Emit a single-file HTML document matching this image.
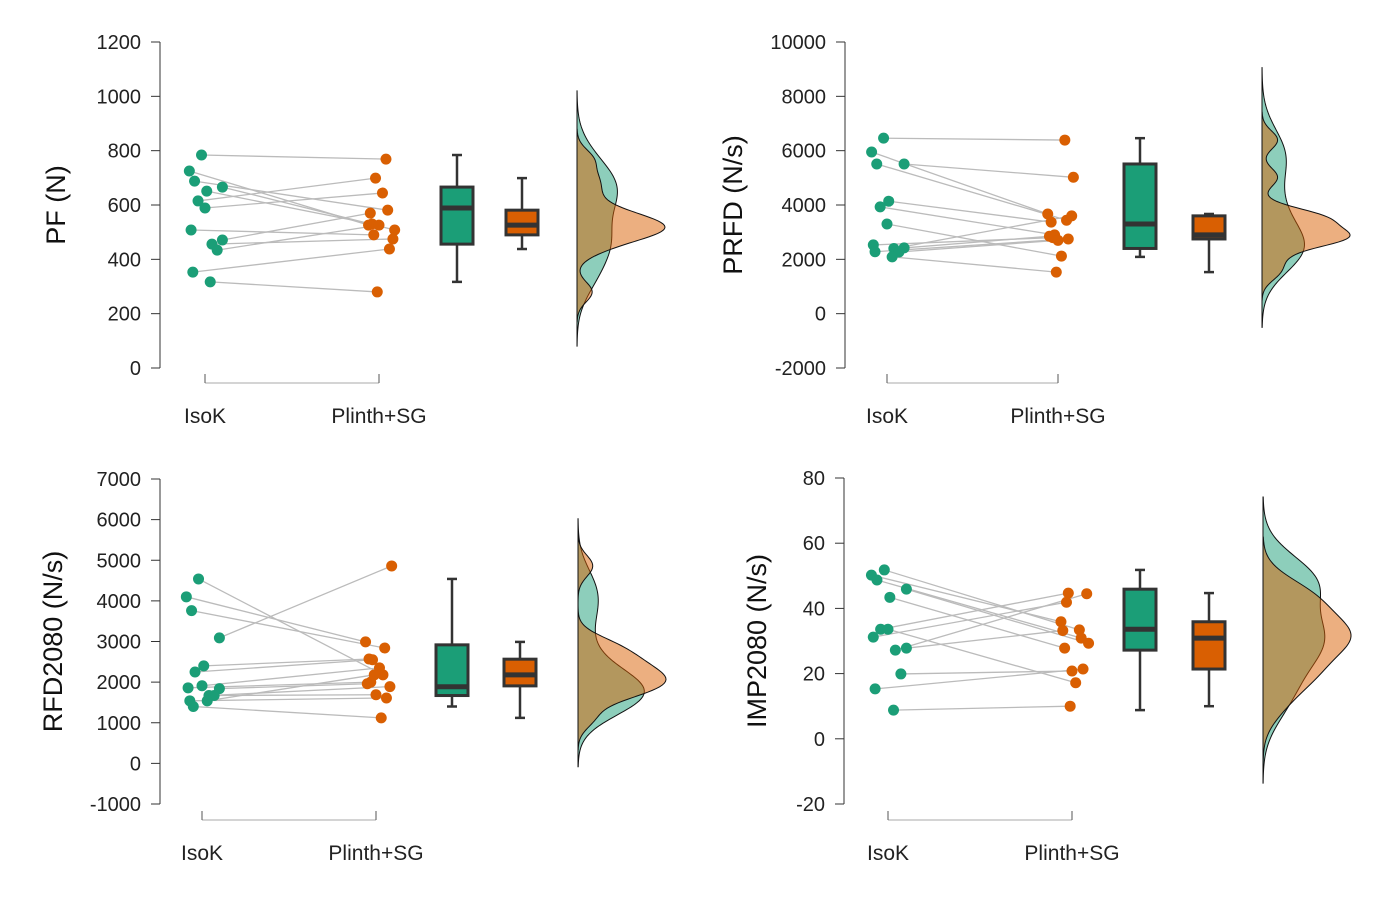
<!DOCTYPE html>
<html><head><meta charset="utf-8"><style>
body{margin:0;background:#fff}
svg{display:block;font-family:"Liberation Sans",Arial,sans-serif}
</style></head><body>
<svg id="c" width="1379" height="902" viewBox="0 0 1379 902"></svg>
<script>
const categories=["IsoK","Plinth+SG"];
const pfIso=[784,725,688,666,651,615,589,508,471,456,434,353,317];
const pfSg=[769,526,581,508,530,699,644,490,570,475,526,438,280];
const prfdIso=[6460,5950,5510,5510,4140,3930,3300,2530,2420,2400,2270,2280,2090];
const prfdSg=[6390,3670,3440,5020,3370,2900,2120,2800,2850,3600,2700,2750,1530];
const rfdIso=[4540,4100,3760,3090,2400,2250,1910,1860,1840,1670,1670,1540,1540,1400];
const rfdSg=[2180,2990,2840,4860,2570,2550,2350,2000,1960,1890,1690,1610,2180,1120];
const impIso=[51.8,50.2,48.7,45.9,43.4,33.6,33.6,31.2,27.8,27.2,19.9,15.3,8.8];
const impSg=[33.4,35.9,30.9,29.3,27.8,44.7,17.2,41.9,33.2,44.5,20.8,21.4,10.0];
const jitterIso=[-0.02,-0.09,-0.06,0.1,0.01,-0.04,0.0,-0.08,0.1,0.04,0.07,-0.07,0.03,-0.05];
const jitterSg=[0.04,-0.06,0.05,0.09,-0.04,-0.02,0.02,-0.03,-0.05,0.08,0.0,0.06,-0.01,0.03];
const pfTicks=[0,200,400,600,800,1000,1200];
const prfdTicks=[-2000,0,2000,4000,6000,8000,10000];
const rfdTicks=[-1000,0,1000,2000,3000,4000,5000,6000,7000];
const impTicks=[-20,0,20,40,60,80];

const NS="http://www.w3.org/2000/svg";
const svg=document.getElementById('c');
function mk(t,a,p){const e=document.createElementNS(NS,t);for(const k in a)e.setAttribute(k,a[k]);(p||svg).appendChild(e);return e;}
const G="#1b9e77",O="#d95f02";
function quant(a,q){const s=[...a].sort((x,y)=>x-y);const p=(s.length-1)*q,i=Math.floor(p);return s[i]+(s[Math.min(i+1,s.length-1)]-s[i])*(p-i);}
function sd(a){const m=a.reduce((x,y)=>x+y)/a.length;return Math.sqrt(a.reduce((s,v)=>s+(v-m)*(v-m),0)/(a.length-1));}
function kde(a){const bw=0.9*Math.min(sd(a),(quant(a,.75)-quant(a,.25))/1.34)*Math.pow(a.length,-0.2);
 const lo=Math.min(...a)-3*bw,hi=Math.max(...a)+3*bw,pts=[];
 for(let i=0;i<=120;i++){const v=lo+(hi-lo)*i/120;let d=0;a.forEach(x=>{d+=Math.exp(-0.5*((v-x)/bw)**2);});pts.push([v,d/(a.length*bw)]);}
 return pts;}

function panel(id,iso,sg,ticks,title,L){
 const g=mk('g',{});  
 const t0=ticks[0],t1=ticks[ticks.length-1];
 const y=v=>L.yb-(v-t0)/(t1-t0)*(L.yb-L.yt);
 const cx=[L.c1,L.c2], sp=L.c2-L.c1;
 const ax=mk('line',{x1:L.ax,x2:L.ax,y1:L.yt,y2:L.yb,stroke:'#333','stroke-width':1},g);
  
 ticks.forEach(v=>{mk('line',{x1:L.ax-9,x2:L.ax,y1:y(v),y2:y(v),stroke:'#333'},g);
  const tl=mk('text',{x:L.ax-19,y:y(v)+7,'text-anchor':'end','font-size':20,fill:'#222'},g);tl.textContent=v;
   });
 const yt=mk('text',{x:0,y:0,'text-anchor':'middle','font-size':27,fill:'#111',transform:`translate(${L.tx},${(L.yt+L.yb)/2}) rotate(-90)`},g);
 yt.textContent=title;  
 mk('line',{x1:cx[0],x2:cx[1],y1:L.xa,y2:L.xa,stroke:'#aaa'},g);
 cx.forEach((x,i)=>{mk('line',{x1:x,x2:x,y1:L.xa-9,y2:L.xa,stroke:'#555'},g);
  const xl=mk('text',{x:x,y:L.xa+40,'text-anchor':'middle','font-size':21,fill:'#222'},g);xl.textContent=categories[i];
   });
 const n=Math.min(iso.length,sg.length);
 for(let i=0;i<n;i++){const l=mk('line',{x1:cx[0]+jitterIso[i]*sp,y1:y(iso[i]),x2:cx[1]+jitterSg[i]*sp,y2:y(sg[i]),stroke:'#bbb','stroke-width':1.3},g);
   }
 [[iso,G,0,jitterIso],[sg,O,1,jitterSg]].forEach(([a,c,k,j])=>a.forEach((v,i)=>{
  const p=mk('circle',{cx:cx[k]+j[i]*sp,cy:y(v),r:5.5,fill:c},g);
   }));
 [[iso,G,L.b1],[sg,O,L.b2]].forEach(([a,c,bx])=>{
  const q1=quant(a,.25),q2=quant(a,.5),q3=quant(a,.75),iqr=q3-q1;
  const mn=Math.min(...a.filter(v=>v>=q1-1.5*iqr)),mx=Math.max(...a.filter(v=>v<=q3+1.5*iqr)),w=16;
  mk('line',{x1:bx,x2:bx,y1:y(mx),y2:y(q3),stroke:'#333','stroke-width':2.5},g);
  mk('line',{x1:bx,x2:bx,y1:y(q1),y2:y(mn),stroke:'#333','stroke-width':2.5},g);
  mk('line',{x1:bx-5,x2:bx+5,y1:y(mx),y2:y(mx),stroke:'#333','stroke-width':2.5},g);
  mk('line',{x1:bx-5,x2:bx+5,y1:y(mn),y2:y(mn),stroke:'#333','stroke-width':2.5},g);
  const r=mk('rect',{x:bx-w,y:y(q3),width:2*w,height:y(q1)-y(q3),fill:c,stroke:'#333','stroke-width':3},g);
   
  mk('line',{x1:bx-w,x2:bx+w,y1:y(q2),y2:y(q2),stroke:'#333','stroke-width':5},g);});
 const d1=kde(iso),d2=kde(sg);const mx=Math.max(...d1.map(p=>p[1]),...d2.map(p=>p[1]));
 [[d1,G],[d2,O]].forEach(([d,c])=>{
  let s=`M${L.vb},${y(d[0][0])}`;d.forEach(p=>{s+=`L${L.vb+p[1]/mx*L.vw},${y(p[0])}`;});s+=`L${L.vb},${y(d[d.length-1][0])}Z`;
  const pa=mk('path',{d:s,fill:c,'fill-opacity':0.5,stroke:'#111','stroke-width':1},g);
   });
}
panel('pf',pfIso,pfSg,pfTicks,'PF (N)',{ax:160,yt:42,yb:368,c1:205,c2:379,b1:457,b2:522,vb:577,vw:88,xa:383,tx:65});
panel('prfd',prfdIso,prfdSg,prfdTicks,'PRFD (N/s)',{ax:845,yt:42,yb:368,c1:887,c2:1058,b1:1140,b2:1209,vb:1262,vw:88,xa:383,tx:742});
panel('rfd2080',rfdIso,rfdSg,rfdTicks,'RFD2080 (N/s)',{ax:160,yt:479,yb:804,c1:202,c2:376,b1:452,b2:520,vb:578,vw:88,xa:820,tx:62});
panel('imp2080',impIso,impSg,impTicks,'IMP2080 (N/s)',{ax:844,yt:478,yb:804,c1:888,c2:1072,b1:1140,b2:1209,vb:1263,vw:88,xa:820,tx:766});
</script>
</body></html>
